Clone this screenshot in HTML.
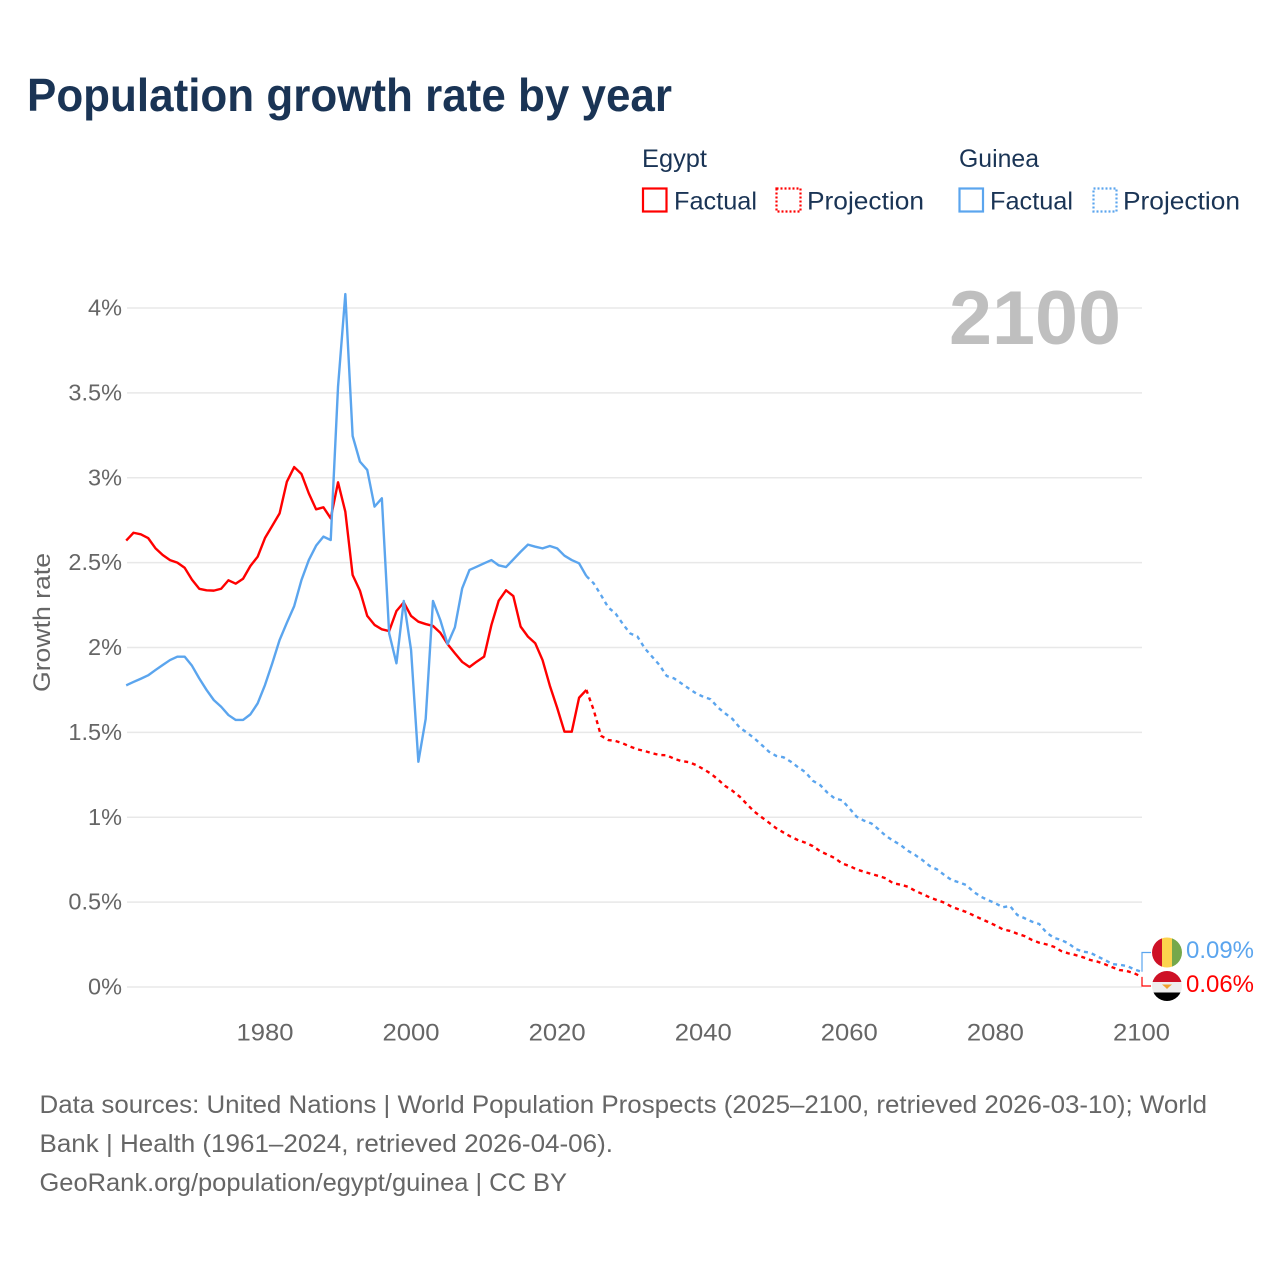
<!DOCTYPE html>
<html lang="en">
<head>
<meta charset="utf-8">
<title>Population growth rate by year</title>
<style>
  html, body { margin: 0; padding: 0; background: #ffffff; }
  svg { display: block; font-family: "Liberation Sans", sans-serif; }
  .navy { fill: #1a3455; }
  .grey { fill: #666666; }
</style>
</head>
<body>
<svg id="chart" xmlns="http://www.w3.org/2000/svg" width="1280" height="1280" viewBox="0 0 1280 1280">
  <defs>
    <clipPath id="clip-guinea"><circle cx="1167" cy="952.5" r="15"/></clipPath>
    <clipPath id="clip-egypt"><circle cx="1167" cy="986" r="15"/></clipPath>
  </defs>

  <text class="navy" x="27" y="111" font-size="46" font-weight="700" textLength="645" lengthAdjust="spacingAndGlyphs">Population growth rate by year</text>

  <g>
    <text class="navy" x="642" y="167" font-size="25" textLength="65" lengthAdjust="spacingAndGlyphs">Egypt</text>
    <text class="navy" x="959" y="167" font-size="25" textLength="80" lengthAdjust="spacingAndGlyphs">Guinea</text>
    <g>
      <rect x="643" y="188.5" width="23.5" height="23" fill="none" stroke="#ff0000" stroke-width="2.2"/>
      <text class="navy" x="674" y="209.5" font-size="25" textLength="83" lengthAdjust="spacingAndGlyphs">Factual</text>
    </g>
    <g>
      <rect x="776.5" y="188.5" width="24" height="23" fill="none" stroke="#ff0000" stroke-width="2.2" stroke-dasharray="2 2"/>
      <text class="navy" x="807" y="209.5" font-size="25" textLength="117" lengthAdjust="spacingAndGlyphs">Projection</text>
    </g>
    <g>
      <rect x="959.5" y="188.5" width="23.5" height="23" fill="none" stroke="#5ba5ee" stroke-width="2.2"/>
      <text class="navy" x="990" y="209.5" font-size="25" textLength="83" lengthAdjust="spacingAndGlyphs">Factual</text>
    </g>
    <g>
      <rect x="1093.5" y="188.5" width="23" height="23" fill="none" stroke="#5ba5ee" stroke-width="2.2" stroke-dasharray="2 2"/>
      <text class="navy" x="1123" y="209.5" font-size="25" textLength="117" lengthAdjust="spacingAndGlyphs">Projection</text>
    </g>
  </g>

  <g id="grid"></g>
  <g id="yticks"></g>
  <g id="xticks"></g>

  <text x="949" y="344" font-size="76" font-weight="700" fill="#bfbfbf" textLength="172" lengthAdjust="spacingAndGlyphs">2100</text>

  <text class="grey" transform="translate(50 692) rotate(-90)" font-size="24" textLength="139" lengthAdjust="spacingAndGlyphs">Growth rate</text>

  <g id="series"></g>
  <g id="ends"></g>

  <g clip-path="url(#clip-guinea)">
    <rect x="1152" y="937" width="10" height="31" fill="#ce1126"/>
    <rect x="1162" y="937" width="10" height="31" fill="#fcd34d"/>
    <rect x="1172" y="937" width="10" height="31" fill="#75a84b"/>
  </g>
  <g clip-path="url(#clip-egypt)">
    <rect x="1152" y="971" width="30" height="11" fill="#ce1126"/>
    <rect x="1152" y="982" width="30" height="10.5" fill="#eeeeee"/>
    <rect x="1152" y="992.5" width="30" height="9" fill="#000000"/>
    <path d="M1162 984.5h10l-3 2.5-2 2-2-2z" fill="#f0a030"/>
  </g>

  <text id="label-guinea" x="1186" y="958" font-size="24" fill="#5ba5ee" textLength="68" lengthAdjust="spacingAndGlyphs"></text>
  <text id="label-egypt" x="1186" y="992" font-size="24" fill="#ff0000" textLength="68" lengthAdjust="spacingAndGlyphs"></text>

  <g>
    <text class="grey" x="39.5" y="1113" font-size="25" textLength="1167.5" lengthAdjust="spacingAndGlyphs">Data sources: United Nations | World Population Prospects (2025–2100, retrieved 2026-03-10); World</text>
    <text class="grey" x="39.5" y="1152" font-size="25" textLength="573.5" lengthAdjust="spacingAndGlyphs">Bank | Health (1961–2024, retrieved 2026-04-06).</text>
    <text class="grey" x="39.5" y="1191" font-size="25" textLength="527.5" lengthAdjust="spacingAndGlyphs">GeoRank.org/population/egypt/guinea | CC BY</text>
  </g>
</svg>

<script>
const factualYears = [
  1961,1962,1963,1964,1965,1966,1967,1968,1969,1970,
  1971,1972,1973,1974,1975,1976,1977,1978,1979,1980,
  1981,1982,1983,1984,1985,1986,1987,1988,1989,1990,
  1991,1992,1993,1994,1995,1996,1997,1998,1999,2000,
  2001,2002,2003,2004,2005,2006,2007,2008,2009,2010,
  2011,2012,2013,2014,2015,2016,2017,2018,2019,2020,
  2021,2022,2023,2024
];
const projectionYears = [
  2024,2025,2026,2027,2028,2029,2030,2031,2032,2033,
  2034,2035,2036,2037,2038,2039,2040,2041,2042,2043,
  2044,2045,2046,2047,2048,2049,2050,2051,2052,2053,
  2054,2055,2056,2057,2058,2059,2060,2061,2062,2063,
  2064,2065,2066,2067,2068,2069,2070,2071,2072,2073,
  2074,2075,2076,2077,2078,2079,2080,2081,2082,2083,
  2084,2085,2086,2087,2088,2089,2090,2091,2092,2093,
  2094,2095,2096,2097,2098,2099,2100
];
const egyptFactual = [
  2.63,2.676,2.667,2.645,2.585,2.545,2.515,2.50,2.47,2.40,
  2.346,2.337,2.335,2.346,2.396,2.376,2.405,2.48,2.535,2.645,
  2.717,2.79,2.977,3.063,3.022,2.908,2.814,2.826,2.761,2.973,
  2.80,2.427,2.335,2.186,2.133,2.107,2.097,2.215,2.266,2.186,
  2.152,2.138,2.127,2.087,2.02,1.966,1.915,1.885,1.917,1.946,
  2.133,2.276,2.337,2.303,2.123,2.064,2.025,1.926,1.775,1.645,
  1.504,1.504,1.704,1.75
];
const egyptProjection = [
  1.75,1.632,1.48,1.455,1.449,1.435,1.416,1.40,1.39,1.377,
  1.367,1.365,1.345,1.331,1.325,1.308,1.284,1.258,1.223,1.184,
  1.156,1.121,1.076,1.033,1.0,0.968,0.935,0.91,0.885,0.865,
  0.85,0.83,0.80,0.78,0.76,0.728,0.713,0.693,0.679,0.666,
  0.654,0.64,0.611,0.603,0.591,0.567,0.548,0.528,0.512,0.497,
  0.473,0.457,0.442,0.422,0.402,0.383,0.363,0.34,0.33,0.314,
  0.30,0.277,0.261,0.251,0.237,0.212,0.198,0.188,0.175,0.159,
  0.149,0.134,0.116,0.10,0.094,0.081,0.06
];
const guineaFactual = [
  1.777,1.797,1.816,1.836,1.867,1.897,1.926,1.946,1.946,1.893,
  1.818,1.75,1.69,1.651,1.602,1.573,1.573,1.606,1.671,1.779,
  1.907,2.044,2.146,2.244,2.398,2.515,2.60,2.653,2.633,3.536,
  4.082,3.246,3.095,3.046,2.83,2.879,2.083,1.907,2.274,1.985,
  1.327,1.579,2.274,2.162,2.02,2.119,2.349,2.457,2.476,2.496,
  2.515,2.484,2.474,2.519,2.564,2.606,2.594,2.584,2.598,2.584,
  2.541,2.515,2.496,2.421
];
const guineaProjection = [
  2.421,2.378,2.309,2.236,2.20,2.138,2.083,2.064,1.995,1.946,
  1.897,1.832,1.818,1.789,1.759,1.73,1.71,1.695,1.647,1.612,
  1.579,1.528,1.498,1.465,1.426,1.386,1.361,1.353,1.327,1.294,
  1.265,1.215,1.19,1.145,1.111,1.10,1.053,1.003,0.98,0.964,
  0.929,0.89,0.862,0.837,0.803,0.778,0.748,0.713,0.693,0.66,
  0.63,0.617,0.601,0.561,0.532,0.512,0.493,0.47,0.477,0.424,
  0.405,0.385,0.371,0.32,0.29,0.277,0.257,0.224,0.208,0.202,
  0.179,0.159,0.135,0.131,0.124,0.104,0.09
];
const yTickValues = [0,0.5,1,1.5,2,2.5,3,3.5,4];
const yTickLabels = ["0%","0.5%","1%","1.5%","2%","2.5%","3%","3.5%","4%"];
const xTickValues = [1980,2000,2020,2040,2060,2080,2100];
const xTickLabels = ["1980","2000","2020","2040","2060","2080","2100"];
const endValueGuinea = "0.09%";
const endValueEgypt = "0.06%";

const SVG_NS = "http://www.w3.org/2000/svg";
const xScale = function (year) { return 126.2 + (year - 1961) * (1141.5 - 126.2) / (2100 - 1961); };
const yScale = function (value) { return 987 - value * (987 - 308) / 4; };

function svgEl(tag, parentId) {
  const el = document.createElementNS(SVG_NS, tag);
  document.getElementById(parentId).appendChild(el);
  return el;
}
function linePath(years, values) {
  return years.map(function (y, i) {
    return (i ? "L" : "M") + xScale(y).toFixed(2) + " " + yScale(values[i]).toFixed(2);
  }).join("");
}
function drawSeries(years, values, color, dashed) {
  const p = svgEl("path", "series");
  p.setAttribute("d", linePath(years, values));
  p.setAttribute("fill", "none");
  p.setAttribute("stroke", color);
  p.setAttribute("stroke-width", "2.4");
  p.setAttribute("stroke-linejoin", "round");
  if (dashed) p.setAttribute("stroke-dasharray", "4 4");
  return p;
}

yTickValues.forEach(function (v, i) {
  const g = svgEl("line", "grid");
  
  
  g.setAttribute("x1", xScale(1961) + 0.8);
  g.setAttribute("x2", xScale(2100) + 0.5);
  g.setAttribute("y1", yScale(v));
  g.setAttribute("y2", yScale(v));
  g.setAttribute("stroke", "#e8e8e8");
  g.setAttribute("stroke-width", "1.5");

  const t = svgEl("text", "yticks");
  
  
  t.setAttribute("x", 122);
  t.setAttribute("y", yScale(v) + 7.5);
  t.setAttribute("text-anchor", "end");
  t.setAttribute("font-size", "23.5");
  t.setAttribute("fill", "#666666");
  t.textContent = yTickLabels[i];
});

xTickValues.forEach(function (v, i) {
  const t = svgEl("text", "xticks");
  
  
  t.setAttribute("x", xScale(v));
  t.setAttribute("y", 1040.5);
  t.setAttribute("text-anchor", "middle");
  t.setAttribute("font-size", "24");
  t.setAttribute("fill", "#666666");
  t.setAttribute("textLength", "57");
  t.setAttribute("lengthAdjust", "spacingAndGlyphs");
  t.textContent = xTickLabels[i];
});

const lineEgyptFactual = drawSeries(factualYears, egyptFactual, "#ff0000", false);



const lineEgyptProjection = drawSeries(projectionYears, egyptProjection, "#ff0000", true);



const lineGuineaFactual = drawSeries(factualYears, guineaFactual, "#5ba5ee", false);



const lineGuineaProjection = drawSeries(projectionYears, guineaProjection, "#5ba5ee", true);



const lastGuinea = yScale(guineaProjection[guineaProjection.length - 1]);
const lastEgypt = yScale(egyptProjection[egyptProjection.length - 1]);
const bracketX = xScale(2100) + 0.5;

const bracketGuinea = svgEl("path", "ends");


bracketGuinea.setAttribute("d", "M" + bracketX + " " + lastGuinea + "V952.5H1151");
bracketGuinea.setAttribute("fill", "none");
bracketGuinea.setAttribute("stroke", "#5ba5ee");
bracketGuinea.setAttribute("stroke-width", "1.2");

const bracketEgypt = svgEl("path", "ends");


bracketEgypt.setAttribute("d", "M" + bracketX + " " + lastEgypt + "V986H1151");
bracketEgypt.setAttribute("fill", "none");
bracketEgypt.setAttribute("stroke", "#ff0000");
bracketEgypt.setAttribute("stroke-width", "1.2");

document.getElementById("label-guinea").textContent = endValueGuinea;
document.getElementById("label-egypt").textContent = endValueEgypt;
</script>
</body>
</html>
